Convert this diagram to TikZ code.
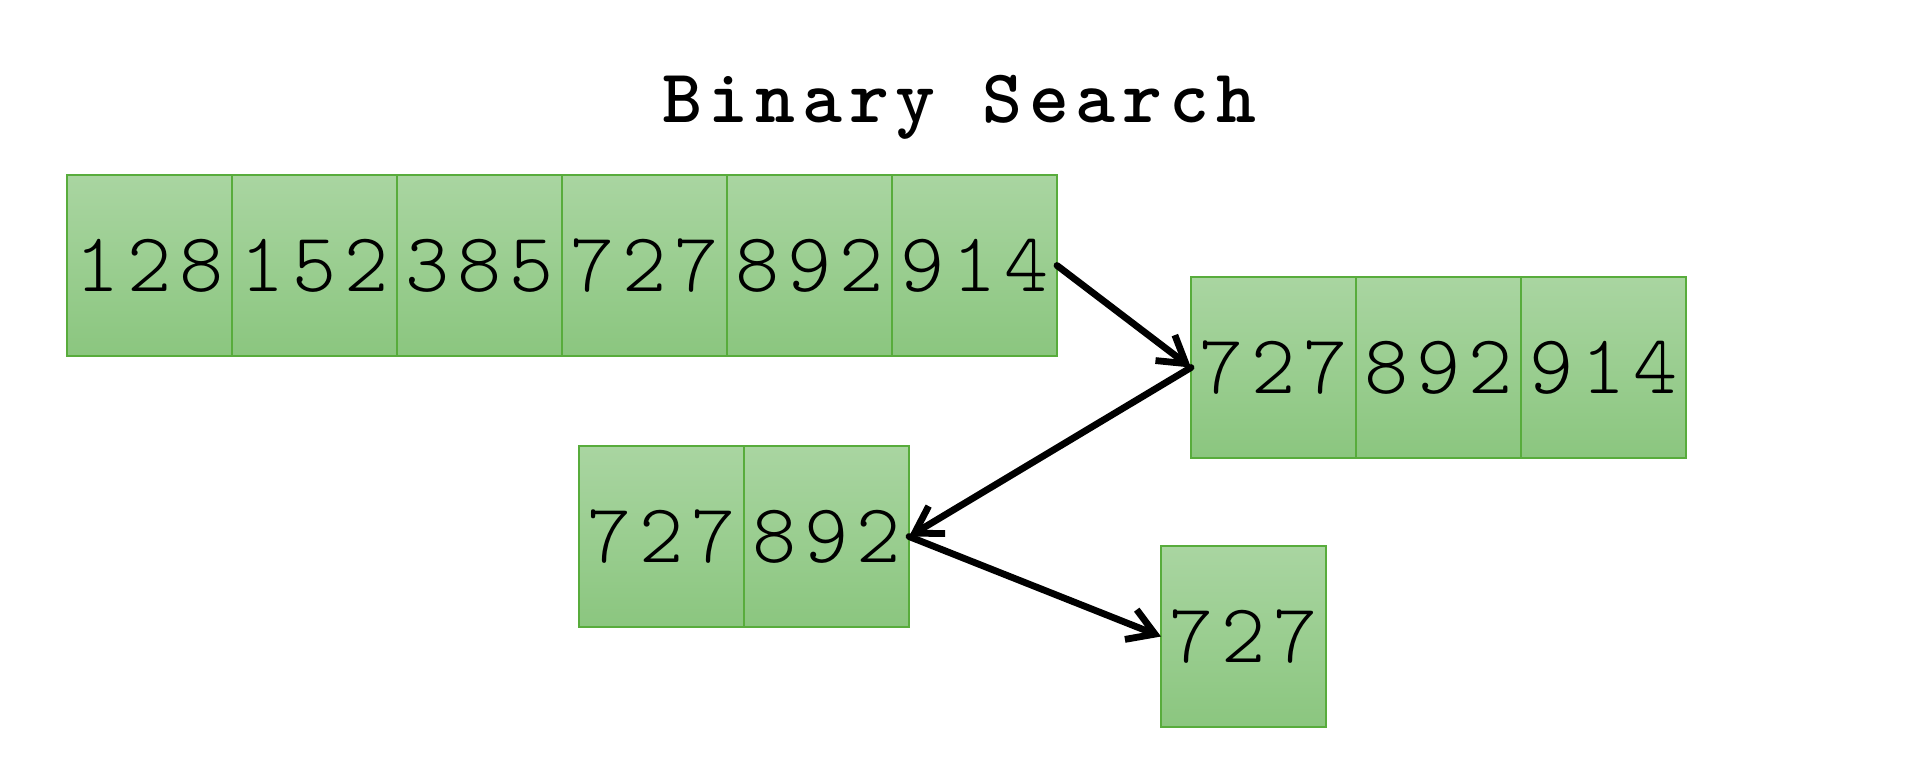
\documentclass[tikz,border=0pt]{standalone}
\usepackage{fontspec}
\newfontfamily\cellfont{lmmonolt10-regular.otf}[LetterSpace=9]
\newfontfamily\titlefont{lmmonolt10-bold.otf}[LetterSpace=9]
\usetikzlibrary{positioning,arrows.meta}
\definecolor{celltop}{RGB}{169,213,161}
\definecolor{cellbottom}{RGB}{139,198,127}
\definecolor{cellline}{RGB}{88,172,60}
\tikzset{/bs/cell/.style={rectangle, draw=cellline, line width=0.6pt, top color=celltop, bottom color=cellbottom, outer sep=0pt, inner sep=0pt, minimum width=82.5pt, minimum height=90.5pt, node font=\cellfont\fontsize{42}{50}\selectfont
}}
\tikzset{/bs/step/.style={-{Straight Barb[length=13pt,width=16pt]}, line width=3.4pt, line cap=round, line join=round
}}

\begin{document}
\begin{tikzpicture}[x=0.5pt, y=-0.5pt]
		\useasboundingbox (0,0) rectangle (1920,768);
		\node[anchor=base, font=\titlefont\fontsize{38}{46}\selectfont] (title) at (959,122) {Binary Search};
		% full array
		\node[/bs/cell, anchor=north west] (a1) at (67,175) {128};
		\node[/bs/cell, right=0pt of a1] (a2) {152};
		\node[/bs/cell, right=0pt of a2] (a3) {385};
		\node[/bs/cell, right=0pt of a3] (a4) {727};
		\node[/bs/cell, right=0pt of a4] (a5) {892};
		\node[/bs/cell, right=0pt of a5] (a6) {914};
		% upper half
		\node[/bs/cell, anchor=north west] (b1) at (1191,277) {727};
		\node[/bs/cell, right=0pt of b1] (b2) {892};
		\node[/bs/cell, right=0pt of b2] (b3) {914};
		% lower half
		\node[/bs/cell, anchor=north west] (c1) at (579,446) {727};
		\node[/bs/cell, right=0pt of c1] (c2) {892};
		% found
		\node[/bs/cell, anchor=north west] (d1) at (1161,546) {727};

		\draw[/bs/step] (a6.east) -- (b1.west);
		\draw[/bs/step] (b1.west) -- (c2.east);
		\draw[/bs/step] (c2.east) -- (d1.west);
	\end{tikzpicture}
\end{document}
